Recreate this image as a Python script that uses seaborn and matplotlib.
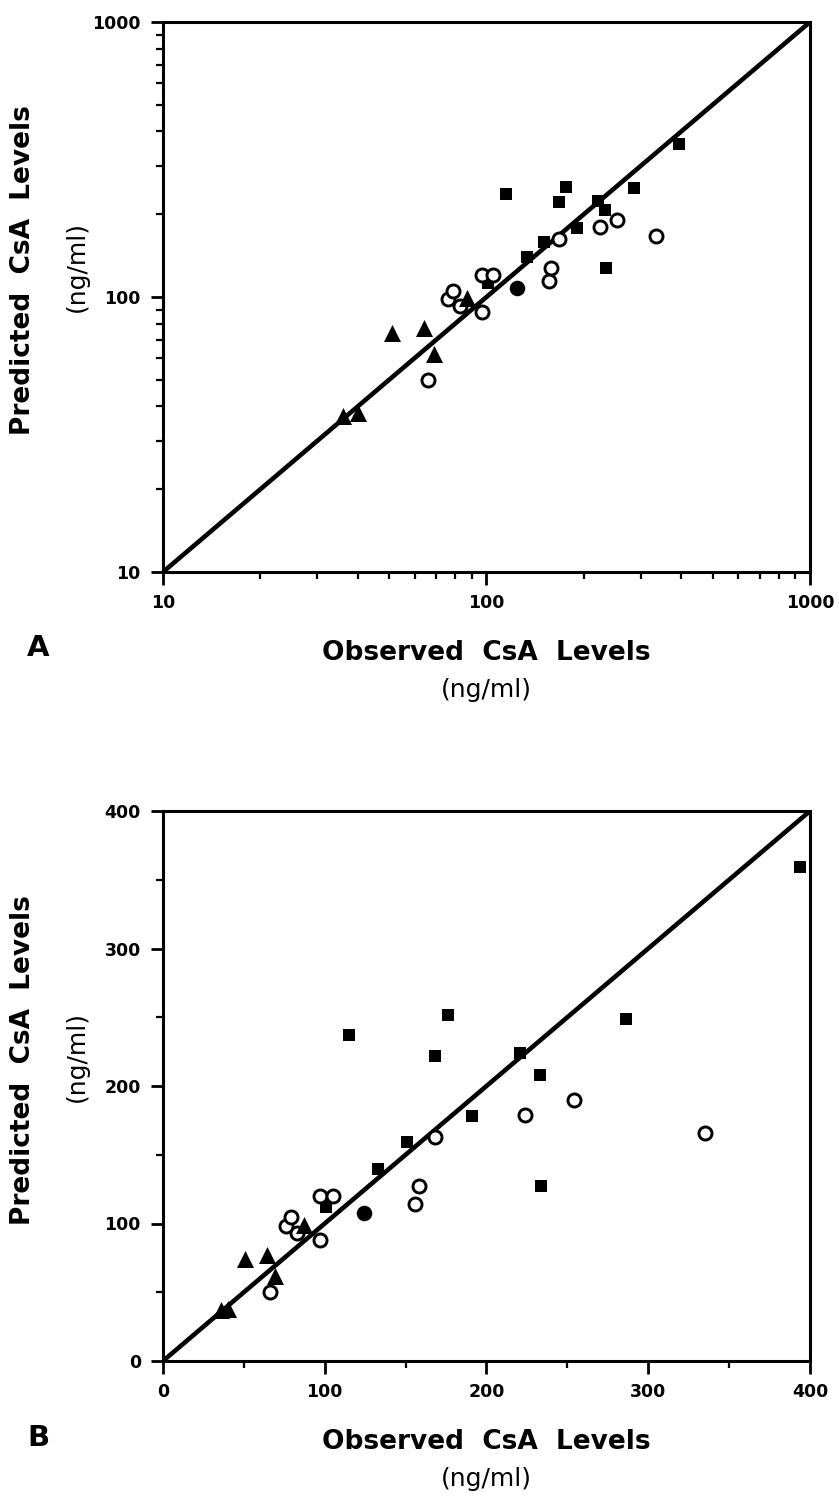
import matplotlib.pyplot as plt
import matplotlib.ticker as mticker
import pandas as pd
import seaborn as sns

# observed vs predicted CsA levels (ng/ml)
sq_obs = [115, 176, 168, 191, 151, 133, 101, 234, 221, 233, 286, 394]
sq_pred = [237, 252, 222, 178, 159, 140, 112, 127, 224, 208, 249, 359]
oc_obs = [66, 97, 83, 76, 79, 97, 105, 156, 158, 168, 224, 254, 335]
oc_pred = [50, 88, 93, 98, 105, 120, 120, 114, 127, 163, 179, 190, 166]
tri_obs = [36, 40, 51, 64, 69, 87]
tri_pred = [37, 38, 74, 77, 62, 99]
fc_obs = [124]
fc_pred = [108]

# line of identity
ident_a = [10, 1000]
ident_b = [0, 400]

log_ticks = [10, 100, 1000]
log_labels = ["10", "100", "1000"]
lin_ticks = [0, 100, 200, 300, 400]
lin_labels = ["0", "100", "200", "300", "400"]

df = pd.concat([
    pd.DataFrame({"obs": sq_obs, "pred": sq_pred, "grp": "square"}),
    pd.DataFrame({"obs": oc_obs, "pred": oc_pred, "grp": "open"}),
    pd.DataFrame({"obs": tri_obs, "pred": tri_pred, "grp": "tri"}),
    pd.DataFrame({"obs": fc_obs, "pred": fc_pred, "grp": "dot"}),
], ignore_index=True)

styles = {
    "square": dict(marker="s", s=78, color="black", edgecolor="black", linewidth=0),
    "open": dict(marker="o", s=88, color="white", edgecolor="black", linewidth=2.1),
    "tri": dict(marker="^", s=150, color="black", edgecolor="black", linewidth=0),
    "dot": dict(marker="o", s=125, color="black", edgecolor="black", linewidth=0),
}

sns.set_style("ticks")
plt.rcParams["font.family"] = ["DejaVu Sans"]
plt.rcParams["text.color"] = "black"
plt.rcParams["axes.labelcolor"] = "black"
plt.rcParams["xtick.color"] = "black"
plt.rcParams["ytick.color"] = "black"

W, H = 839, 1498
fig = plt.figure(figsize=(W / 100, H / 100), dpi=100)
ax_a = fig.add_axes([163 / W, 1 - 572 / H, 647 / W, 550 / H])
ax_b = fig.add_axes([163 / W, 1 - 1361 / H, 647 / W, 550 / H])


def draw(ax, ident):
    sns.lineplot(x=ident, y=ident, ax=ax, color="black", linewidth=3.3, zorder=1)
    for grp, kw in styles.items():
        sub = df[df["grp"] == grp]
        sns.scatterplot(data=sub, x="obs", y="pred", ax=ax, zorder=3, legend=False, **kw)
    ax.set_xlabel("")
    ax.set_ylabel("")
    for sp in ax.spines.values():
        sp.set_visible(True)
        sp.set_linewidth(2.2)
        sp.set_color("black")
    ax.tick_params(which="major", direction="out", length=9, width=2, pad=7,
                   labelsize=12.5, colors="black")
    ax.tick_params(which="minor", direction="out", length=5, width=1.6, colors="black")


draw(ax_a, ident_a)
ax_a.set_xscale("log")
ax_a.set_yscale("log")
ax_a.set_xlim(10, 1000)
ax_a.set_ylim(10, 1000)
ax_a.set_xticks(log_ticks, log_labels)
ax_a.set_yticks(log_ticks, log_labels)
ax_a.xaxis.set_minor_locator(mticker.LogLocator(base=10, subs=range(2, 10)))
ax_a.yaxis.set_minor_locator(mticker.LogLocator(base=10, subs=range(2, 10)))
ax_a.xaxis.set_minor_formatter(mticker.NullFormatter())
ax_a.yaxis.set_minor_formatter(mticker.NullFormatter())

draw(ax_b, ident_b)
ax_b.set_xlim(0, 400)
ax_b.set_ylim(0, 400)
ax_b.set_xticks(lin_ticks, lin_labels)
ax_b.set_yticks(lin_ticks, lin_labels)
ax_b.xaxis.set_minor_locator(mticker.MultipleLocator(50))
ax_b.yaxis.set_minor_locator(mticker.MultipleLocator(50))
for lab in ax_b.get_xticklabels() + ax_b.get_yticklabels():
    lab.set_fontweight("bold")
for lab in ax_a.get_xticklabels() + ax_a.get_yticklabels():
    lab.set_fontweight("semibold")


def ftext(x, y, s, **kw):
    fig.text(x / W, 1 - y / H, s, ha="center", va="center", color="black", **kw)


bold = dict(fontsize=19, fontweight="bold")
reg = dict(fontsize=18)
for top, ycen in [(572, 270), (1361, 1060)]:
    ftext(486, top + 81, "Observed  CsA  Levels", **bold)
    ftext(486, top + 118, "(ng/ml)", **reg)
    ftext(23, ycen, "Predicted  CsA  Levels", rotation=90, **bold)
    ftext(77, ycen - 4, "(ng/ml)", rotation=90, **reg)
ftext(38, 648, "A", fontsize=21, fontweight="bold")
ftext(38, 1438, "B", fontsize=21, fontweight="bold")

fig.savefig("out.png", dpi=100)
